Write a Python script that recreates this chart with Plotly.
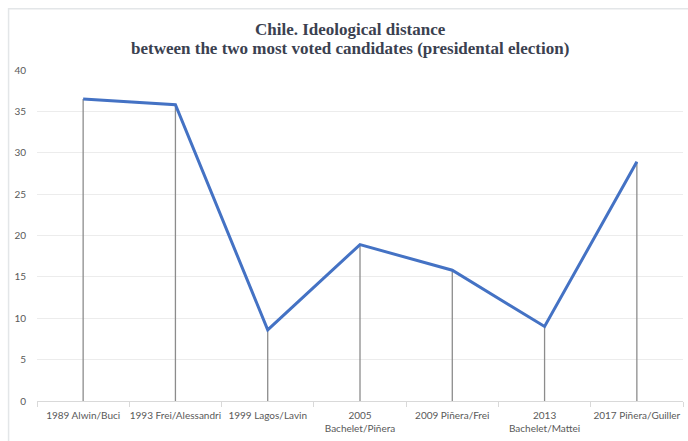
import plotly.graph_objects as go

categories = ["1989 Alwin/Buci", "1993 Frei/Alessandri", "1999 Lagos/Lavin",
              "2005<br>Bachelet/Piñera", "2009 Piñera/Frei", "2013<br>Bachelet/Mattei",
              "2017 Piñera/Guiller"]
distance = [36.5, 35.8, 8.6, 18.9, 15.8, 9.0, 28.9]
y_ticks = [0, 5, 10, 15, 20, 25, 30, 35, 40]
title_lines = ["Chile. Ideological distance",
               "between the two most voted candidates (presidental election)"]

# drop lines from each point down to zero
dx, dy = [], []
for c, v in zip(categories, distance):
    dx += [c, c, None]
    dy += [0, v, None]

fig = go.Figure()
fig.add_trace(go.Scatter(x=dx, y=dy, mode="lines",
                         line=dict(color="#8c8c8c", width=1.3),
                         hoverinfo="skip", showlegend=False))
fig.add_trace(go.Scatter(x=categories, y=distance, mode="lines",
                         line=dict(color="#4472C4", width=3),
                         showlegend=False))

title_font = dict(family="Liberation Serif", size=17, color="#3b4150")
annotations = []
for txt, ypos in zip(title_lines, [1.1224, 1.065]):
    annotations.append(dict(text="<b>" + txt + "</b>", xref="paper", yref="paper",
                            x=0.485, y=ypos, xanchor="center", yanchor="middle",
                            showarrow=False, font=title_font, borderpad=0))

fig.update_layout(
    width=688, height=441,
    margin=dict(l=37, r=5, t=70, b=40),
    paper_bgcolor="white", plot_bgcolor="white",
    annotations=annotations,
    xaxis=dict(
        type="category", showgrid=False, showline=True, linecolor="#d9d9d9", linewidth=1,
        ticks="outside", tickson="boundaries", ticklen=5, tickcolor="#d9d9d9",
        tickfont=dict(family="Lato", size=10, color="#595959"),
        tickangle=0, automargin=False, ticklabelstandoff=5,
        range=[-0.5, 6.5], fixedrange=True,
    ),
    yaxis=dict(
        range=[0, 40], tickvals=y_ticks, showgrid=True, gridcolor="#ececec", gridwidth=1,
        zeroline=False, showline=False, automargin=False,
        tickfont=dict(family="Lato", size=10, color="#595959"),
        ticklabelstandoff=10,
    ),
    shapes=[dict(type="rect", xref="paper", yref="paper",
                 x0=-0.044, x1=1.2, y0=-0.2, y1=1.185,
                 line=dict(color="#e3e6e8", width=1.5), layer="below")],
)

fig.write_html("out.html", config={"displayModeBar": False},
               post_script="document.body.style.margin='0';")
